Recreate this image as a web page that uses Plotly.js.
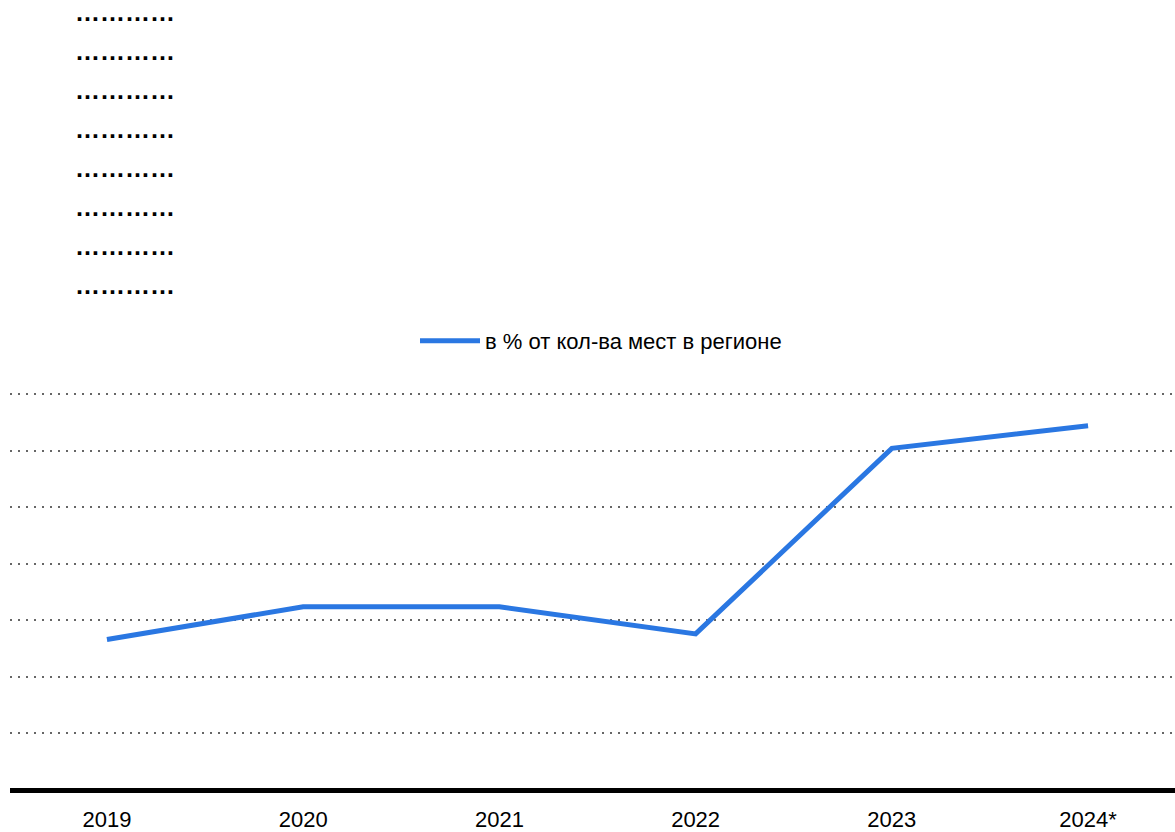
<!DOCTYPE html>
<html>
<head>
<meta charset="utf-8">
<script src="https://cdn.plot.ly/plotly-3.0.1.min.js"></script>
<style>html,body{margin:0;padding:0;background:#fff;}#chart{width:1175px;height:832px;}</style>
</head>
<body>
<div id="chart"></div>
<script>
const years = ["2019", "2020", "2021", "2022", "2023", "2024*"];
const shareOfPlaces = [1.33, 1.62, 1.62, 1.38, 3.02, 3.22];
const seriesName = "в % от кол-ва мест в регионе";
const placeholderRows = ["…………", "…………", "…………", "…………", "…………", "…………", "…………", "…………"];

const FONT = "Liberation Sans, Arial, sans-serif";
const W = 1175, H = 832;
const mL = 10, mR = 0, mT = 380, mB = 30;
const plotH = H - mT - mB;

const annotations = placeholderRows.map((t, i) => ({
  text: t,
  xref: "paper", yref: "paper",
  x: (73 - mL) / (W - mL - mR), xanchor: "left",
  y: (H - mB - (17 + i * 38.9)) / plotH, yanchor: "bottom",
  yshift: -11.5,
  showarrow: false,
  font: {family: FONT, size: 25, color: "#000", weight: "bold"}
}));

const trace = {
  type: "scatter",
  mode: "lines",
  x: years,
  y: shareOfPlaces,
  name: seriesName,
  line: {color: "#2a77e2", width: 5},
  showlegend: true
};

const layout = {
  width: W, height: H,
  margin: {l: mL, r: mR, t: mT, b: mB, pad: 0},
  paper_bgcolor: "#fff",
  plot_bgcolor: "#fff",
  font: {family: FONT, size: 22, color: "#000"},
  showlegend: true,
  legend: {
    orientation: "h",
    x: (601 - mL) / (W - mL - mR), xanchor: "center",
    y: (H - mB - 341) / plotH, yanchor: "middle",
    font: {family: FONT, size: 22, color: "#000"},
    itemwidth: 60,
    bgcolor: "rgba(0,0,0,0)"
  },
  xaxis: {
    type: "category",
    range: [-0.494, 5.443],
    showgrid: false,
    showline: false,
    zeroline: false,
    ticks: "",
    tickfont: {family: FONT, size: 22, color: "#000"},
    ticklabelstandoff: 2
  },
  yaxis: {
    range: [-12 / 113.14, 3.5 + 14 / 113.14],
    dtick: 0.5,
    tick0: 0,
    showticklabels: false,
    ticks: "",
    showgrid: true,
    gridcolor: "#666",
    gridwidth: 2,
    griddash: "2px,6px",
    zeroline: true,
    zerolinecolor: "#000",
    zerolinewidth: 5,
    showline: false
  },
  annotations: annotations
};

Plotly.newPlot("chart", [trace], layout, {displayModeBar: false, staticPlot: true});
</script>
</body>
</html>
